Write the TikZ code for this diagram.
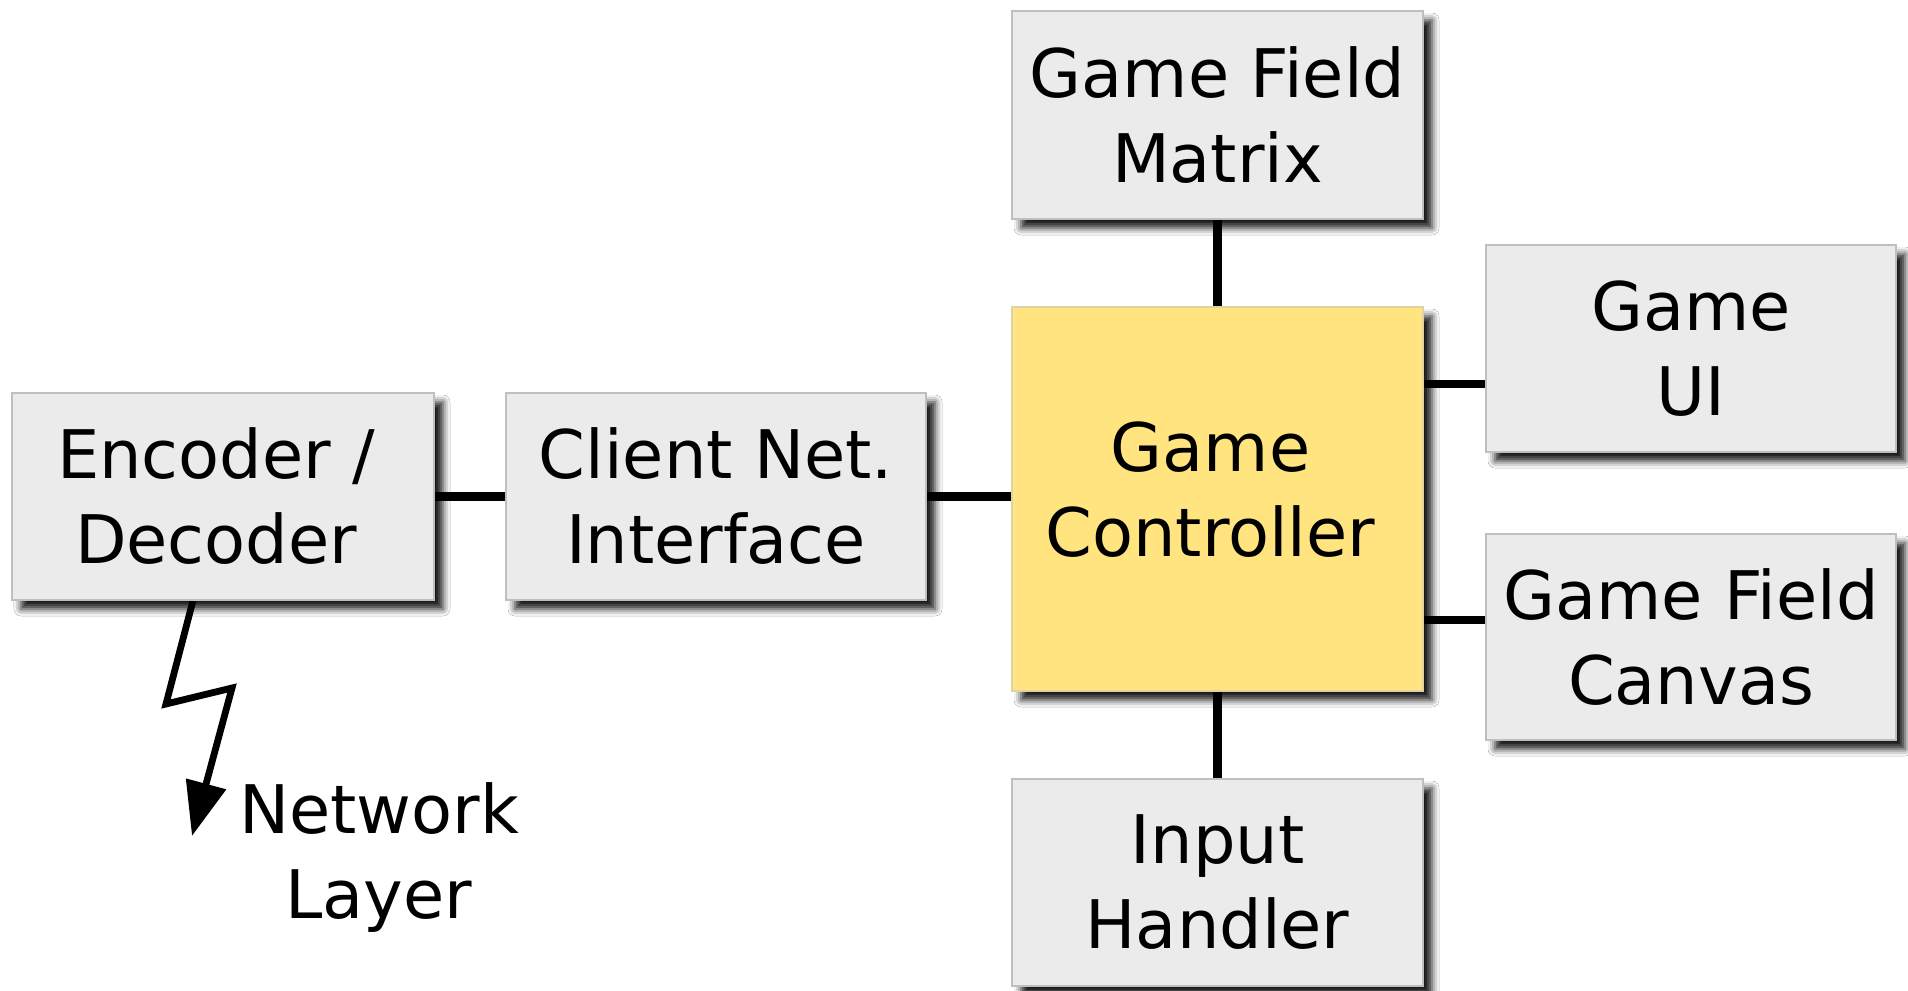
\documentclass[tikz,border=0pt]{standalone}
\usepackage{fontspec}
\setmainfont{DejaVu Sans}
\usetikzlibrary{shadows.blur,arrows.meta,calc}
\pgfdeclarelayer{background}
\pgfsetlayers{background,main}
\definecolor{boxgray}{HTML}{EBEBEB}
\definecolor{boxedge}{HTML}{BFBFBF}
\definecolor{ctrlyellow}{HTML}{FFE480}
\begin{document}
\begin{tikzpicture}[x=0.5pt,y=-0.5pt,
  block/.style={rectangle, draw=boxedge, line width=0.6pt, fill=boxgray,
    inner sep=0pt, align=center, font=\fontsize{33.5}{42.5}\selectfont,
    minimum width=205.5pt, minimum height=103.5pt,
    blur shadow={shadow xshift=4.5pt, shadow yshift=-4.5pt, shadow blur radius=3.5pt, shadow opacity=90}},
  ctrl/.style={block, fill=ctrlyellow, draw=ctrlyellow!80!black!60},
  link/.style={line width=4.2pt},
  bolt/.style={line width=3.4pt, line join=miter, -{Triangle[length=27pt,width=20pt]}},
  lbl/.style={inner sep=0pt, align=center, font=\fontsize{33.5}{42.5}\selectfont},
  ]
\path[use as bounding box] (0,0) rectangle (1908,991);

\node[block, minimum width=211pt] (enc) at (223,496.5) {Encoder /\kern7pt\\Decoder\kern7pt};
\node[block, minimum width=210pt] (cni) at (716,496.5) {Client Net.\\Interface};
\node[block, minimum height=104pt] (gfm) at (1217.5,115) {Game Field\\Matrix};
\node[ctrl, minimum height=192pt, text depth=10pt] (gc) at (1217.5,499) {Game\kern7pt\\Controller\kern7pt};
\node[block, minimum width=205pt] (gui) at (1691,348.5) {Game\\UI};
\node[block, minimum width=205pt, minimum height=103pt] (gfc) at (1691,637) {Game Field\\Canvas};
\node[block] (ih) at (1217.5,882.5) {Input\\Handler};

\node[lbl] (nl) at (379,858) {Network\\Layer};
\coordinate (z1) at (166,704);
\coordinate (z2) at (232,688);
\coordinate (tip) at (192,836);

\begin{pgfonlayer}{background}
  \fill[white] (0,0) rectangle (1908,991);
  \draw[link] (enc.east) -- (cni.west);
  \draw[link] (cni.east) -- (cni.east -| gc.west);
  \draw[link] (gfm.south) -- (gc.north);
  \draw[link] (gc.south) -- (ih.north);
  \coordinate (uiin) at ([yshift=-17.75pt]gui.west);
  \coordinate (cvin) at ([yshift=8.5pt]gfc.west);
  \draw[link] (uiin -| gc.east) -- (uiin);
  \draw[link] (cvin -| gc.east) -- (cvin);
  \draw[bolt] ([xshift=-15pt]enc.south) -- (z1) -- (z2) -- (tip);
\end{pgfonlayer}
\end{tikzpicture}
\end{document}
